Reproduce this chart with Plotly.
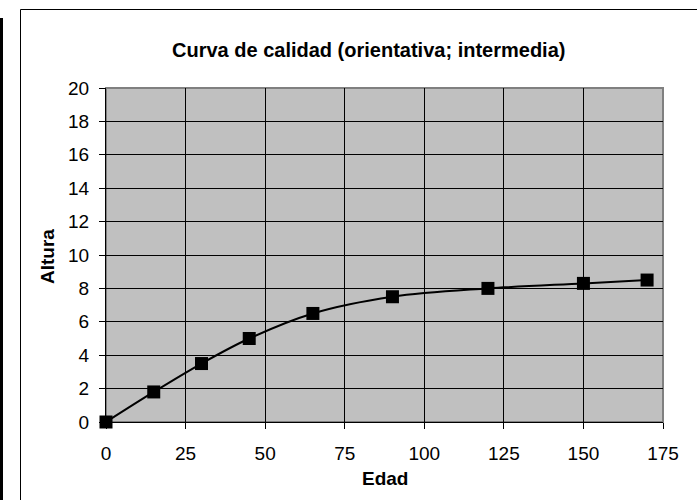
import plotly.graph_objects as go

edad = [0, 15, 30, 45, 65, 90, 120, 150, 170]
altura = [0, 1.8, 3.5, 5.0, 6.5, 7.5, 8.0, 8.3, 8.5]
x_ticks = [0, 25, 50, 75, 100, 125, 150, 175]
y_ticks = [0, 2, 4, 6, 8, 10, 12, 14, 16, 18, 20]

W, H = 697, 500
L, R, T, B = 106, 34, 88, 78
pw, ph = W - L - R, H - T - B

def px(xp):
    return (xp - L) / pw

def py(yp):
    return (H - B - yp) / ph

FONT = "Liberation Sans, Arial, sans-serif"

fig = go.Figure()
fig.add_trace(go.Scatter(
    x=edad, y=altura, mode="lines+markers",
    line=dict(color="black", width=2, shape="spline", smoothing=1),
    marker=dict(symbol="square", size=13, color="black"),
    cliponaxis=False, showlegend=False,
))

axis_common = dict(
    showgrid=True, gridcolor="black", gridwidth=1,
    ticks="outside", ticklen=6, tickcolor="black", tickwidth=1,
    showline=True, linecolor="black", linewidth=1,
    zeroline=False,
    tickfont=dict(family=FONT, size=19, color="black"),
)

fig.update_xaxes(range=[0, 175], tickvals=x_ticks, ticktext=[str(v) for v in x_ticks],
                 ticklabelstandoff=8, **axis_common)
fig.update_yaxes(range=[0, 20], tickvals=y_ticks, ticktext=[str(v) for v in y_ticks],
                 ticklabelstandoff=6, **axis_common)

shapes = [
    # plot area gray border
    dict(type="rect", xref="paper", yref="paper", x0=0, y0=0, x1=1, y1=1,
         line=dict(color="#808080", width=2), layer="below"),
    # outer chart border
    dict(type="rect", xref="paper", yref="paper", x0=px(20.5), y0=py(498 + 20), x1=px(697 + 20), y1=py(9.5),
         line=dict(color="black", width=1)),
    # black bar on left edge
    dict(type="rect", xref="paper", yref="paper", x0=px(0), y0=py(520), x1=px(3), y1=py(18),
         line=dict(width=0), fillcolor="black"),
]

annotations = [
    dict(text="<b>Curva de calidad (orientativa; intermedia)</b>", xref="paper", yref="paper",
         x=px(368), y=py(50), showarrow=False, xanchor="center", yanchor="middle",
         font=dict(family=FONT, size=20, color="black")),
    dict(text="<b>Edad</b>", xref="paper", yref="paper",
         x=px(385), y=py(478), showarrow=False, xanchor="center", yanchor="middle",
         font=dict(family=FONT, size=19, color="black")),
    dict(text="<b>Altura</b>", xref="paper", yref="paper",
         x=px(47), y=py(257), showarrow=False, xanchor="center", yanchor="middle",
         textangle=-90, font=dict(family=FONT, size=19, color="black")),
]

fig.update_layout(
    width=W, height=H,
    margin=dict(l=L, r=R, t=T, b=B, autoexpand=False),
    paper_bgcolor="white", plot_bgcolor="#C0C0C0",
    shapes=shapes, annotations=annotations,
    font=dict(family=FONT, color="black"),
)

fig.write_html("out.html", config={"displayModeBar": False},
               post_script="document.body.style.margin='0';document.body.style.overflow='hidden';")
